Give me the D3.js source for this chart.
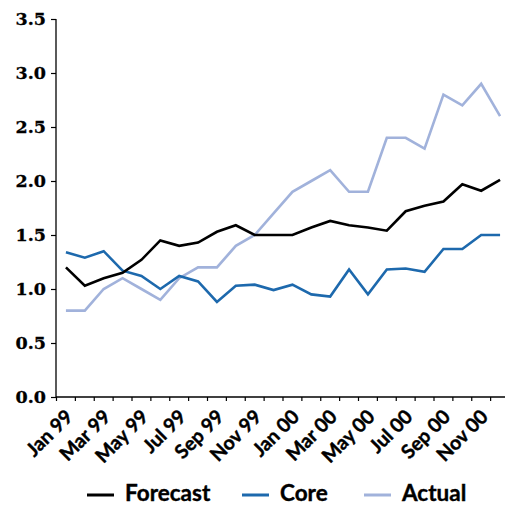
<!DOCTYPE html>
<html><head><meta charset="utf-8">
<script src="https://cdn.jsdelivr.net/npm/d3@7"></script>
<style>body{margin:0;background:#fff}svg{display:block}</style>
</head><body><div id="chart"></div>
<script>
const months = ["Jan 99","Feb 99","Mar 99","Apr 99","May 99","Jun 99","Jul 99","Aug 99","Sep 99","Oct 99","Nov 99","Dec 99",
                "Jan 00","Feb 00","Mar 00","Apr 00","May 00","Jun 00","Jul 00","Aug 00","Sep 00","Oct 00","Nov 00","Dec 00"];
const forecast = [1.20,1.03,1.10,1.15,1.27,1.45,1.40,1.43,1.53,1.59,1.50,1.50,1.50,1.57,1.63,1.59,1.57,1.54,1.72,1.77,1.81,1.97,1.91,2.01];
const core     = [1.34,1.29,1.35,1.17,1.12,1.00,1.12,1.07,0.88,1.03,1.04,0.99,1.04,0.95,0.93,1.18,0.95,1.18,1.19,1.16,1.37,1.37,1.50,1.50];
const actual   = [0.8,0.8,1.0,1.1,1.0,0.9,1.1,1.2,1.2,1.4,1.5,1.7,1.9,2.0,2.1,1.9,1.9,2.4,2.4,2.3,2.8,2.7,2.9,2.6];
const yTicks = [0,0.5,1.0,1.5,2.0,2.5,3.0,3.5];
const seriesNames = ["Forecast","Core","Actual"];
const seriesColors = ["#000000","#1d69ad","#a1b2db"];
const seriesData = [forecast, core, actual];

const W = 505, H = 505;
const svg = d3.select("#chart").append("svg").attr("width", W).attr("height", H);

const x = d3.scaleBand().domain(months).range([56.5, 509.5]).padding(0);
const y = d3.scaleLinear().domain([0, 3.5]).range([397, 19]);
const cx = m => x(m) + x.bandwidth() / 2;

// Y axis
const yAxis = svg.append("g").attr("transform", "translate(56,0)")
  .call(d3.axisLeft(y).tickValues(yTicks).tickFormat(d3.format(".1f")).tickSize(5).tickPadding(5));
yAxis.select(".domain").attr("stroke", "#000").attr("stroke-width", 1.3).attr("d", `M0,${y(3.5)}V${y(0)}`);
yAxis.selectAll(".tick line").attr("stroke", "#000").attr("stroke-width", 1.2);
yAxis.selectAll(".tick text").attr("font-family", "DejaVu Serif").attr("font-weight", "bold")
  .attr("font-size", 17.5).attr("fill", "#000").attr("stroke", "#000").attr("stroke-width", 0.3);

// X axis
const xAxis = svg.append("g").attr("transform", `translate(0,${y(0)})`)
  .call(d3.axisBottom(x).tickSize(0).tickFormat(""));
xAxis.select(".domain").attr("stroke", "#000").attr("stroke-width", 1.3).attr("d", `M56,0H505`);
xAxis.selectAll(".tick").remove();
xAxis.selectAll("line.mtick").data(months).enter().append("line").attr("class", "mtick")
  .attr("x1", d => x(d)).attr("x2", d => x(d)).attr("y1", 0).attr("y2", 4)
  .attr("stroke", "#000").attr("stroke-width", 1.2);
xAxis.selectAll("text.mlab").data(months.filter((d, i) => i % 2 === 0)).enter().append("text")
  .attr("class", "mlab")
  .attr("transform", d => `translate(${cx(d) + 8},${21}) rotate(-45)`)
  .attr("text-anchor", "end")
  .attr("font-family", "Lato").attr("font-weight", "bold").attr("font-size", 19.5)
  .attr("fill", "#000").attr("stroke", "#000").attr("stroke-width", 0.4).text(d => d);

// Lines
const line = d3.line().x((d, i) => cx(months[i])).y(d => y(d));
svg.append("g").selectAll("path").data(seriesData.map((d, i) => ({d, i})).reverse()).enter().append("path")
  .attr("d", s => line(s.d)).attr("fill", "none")
  .attr("stroke", s => seriesColors[s.i]).attr("stroke-width", 2.6)
  .attr("stroke-linejoin", "miter");

// Legend
const legX = [87, 242, 364];
const leg = svg.append("g");
seriesNames.forEach((n, i) => {
  leg.append("line").attr("x1", legX[i]).attr("x2", legX[i] + 27).attr("y1", 495).attr("y2", 495)
    .attr("stroke", seriesColors[i]).attr("stroke-width", 3);
  leg.append("text").attr("x", legX[i] + 38).attr("y", 501).text(n)
    .attr("font-family", "Lato").attr("font-weight", "bold").attr("font-size", 22.5)
    .attr("fill", "#000").attr("stroke", "#000").attr("stroke-width", 0.4);
});
</script></body></html>
